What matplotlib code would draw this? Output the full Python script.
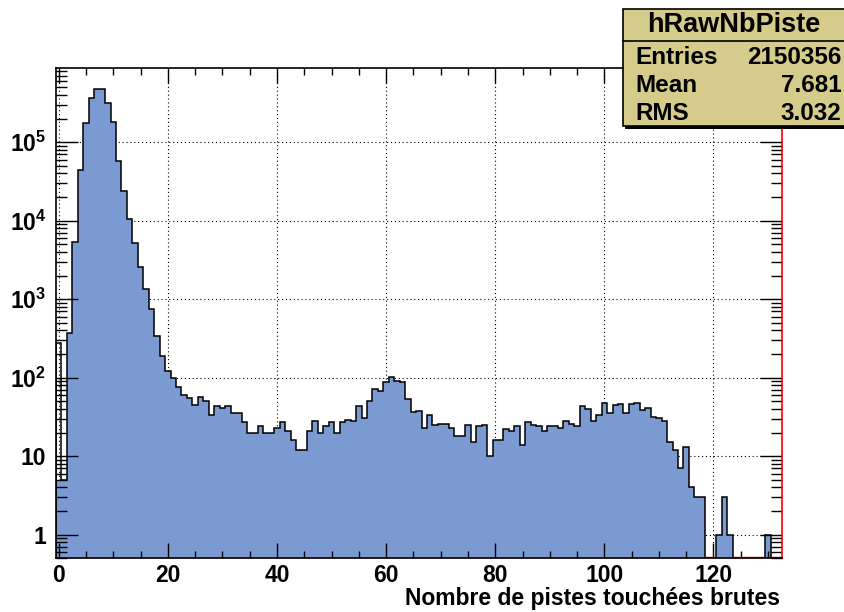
import numpy as np
import matplotlib
matplotlib.use('Agg')
import matplotlib.pyplot as plt
from matplotlib.patches import Rectangle
from matplotlib.lines import Line2D
from matplotlib.ticker import FixedLocator, MultipleLocator, LogLocator, NullFormatter

plt.rcParams['font.family'] = 'Liberation Sans'
plt.rcParams['font.weight'] = 'bold'
plt.rcParams['mathtext.fontset'] = 'custom'
plt.rcParams['mathtext.rm'] = 'Liberation Sans:bold'
plt.rcParams['mathtext.it'] = 'Liberation Sans:bold'
plt.rcParams['mathtext.bf'] = 'Liberation Sans:bold'

# hRawNbPiste : un bin par nombre de pistes (0 a 132)
contenu = [
    275, 5, 376, 5420, 44400, 178000, 370000, 473000, 473000, 320000,
    180000, 58300, 24200, 10500, 5260, 2600, 1340, 750, 341, 190,
    120, 98, 76, 60, 55, 45, 57, 50, 33, 44,
    41, 44, 35, 35, 27, 20, 20, 24, 20, 20,
    23, 27, 21, 16, 12, 12, 21, 28, 20, 24,
    27, 20, 27, 29, 28, 43, 31, 51, 71, 68,
    87, 101, 92, 87, 53, 37, 38, 23, 33, 25,
    26, 26, 23, 18, 18, 25, 15, 24, 25, 10,
    16, 16, 22, 21, 24, 14, 27, 25, 24, 21,
    24, 24, 23, 28, 26, 24, 44, 40, 28, 33,
    48, 35, 45, 46, 35, 46, 47, 39, 41, 32,
    31, 28, 15, 12, 7, 13, 4, 3, 3, 0,
    0, 1, 3, 1, 0, 0, 0, 0, 0, 0,
    1, 0, 0,
]
bords = np.arange(len(contenu) + 1) - 0.5

x_ticks = [0, 20, 40, 60, 80, 100, 120]
y_ticks = [1, 10, 1e2, 1e3, 1e4, 1e5]
y_labels = ['1', '10', r'$10^{2}$', r'$10^{3}$', r'$10^{4}$', r'$10^{5}$']

stat_titre = 'hRawNbPiste'
stat_noms = ['Entries', 'Mean', 'RMS']
stat_vals = ['2150356', '7.681', '3.032']

W, H = 845, 612
fig = plt.figure(figsize=(W / 100, H / 100), dpi=100)

def fx(px):
    return px / W

def fy(py):
    return 1 - py / H

x0, x1, y0, y1 = 56, 781.7, 67.7, 558.3
ax = fig.add_axes([fx(x0), fy(y1), fx(x1) - fx(x0), fy(y0) - fy(y1)])
ax.set_yscale('log')
ymin, ymax = 0.5, 8.9e5

bleu = '#7b9ad1'
vals = np.array(contenu, dtype=float)
trace = np.where(vals > 0, vals, 0.05)
# le remplissage du premier bin s'arrete au niveau du second
remplissage = trace.copy()
remplissage[0] = min(trace[0], trace[1])

ax.stairs(remplissage, bords, fill=True, color=bleu, baseline=0.05, zorder=1)
ax.stairs(trace, bords, color='black', lw=1.1, baseline=0.05, zorder=1.5)

# ligne rouge en bas et sur le bord droit
ax.plot([-0.5, 132.5], [0.003, 0.003], color='red', lw=1.0,
        transform=ax.get_xaxis_transform(), zorder=0.8, clip_on=False)

# grille pointillee sous l'histogramme
for xv in x_ticks:
    ax.axvline(xv, color='black', lw=0.8, ls=(0, (1, 2.5)), zorder=0.5)
for yv in y_ticks:
    ax.axhline(yv, color='black', lw=0.8, ls=(0, (1, 2.5)), zorder=0.5)

ax.set_xlim(-0.5, 132.5)
ax.set_ylim(ymin, ymax)

ax.xaxis.set_major_locator(FixedLocator(x_ticks))
ax.xaxis.set_minor_locator(MultipleLocator(5))
ax.yaxis.set_major_locator(FixedLocator(y_ticks))
ax.set_yticklabels(y_labels)
ax.yaxis.set_minor_locator(LogLocator(base=10, subs=np.arange(2, 10)))
ax.yaxis.set_minor_formatter(NullFormatter())

ax.tick_params(axis='x', which='major', direction='in', length=10.5, width=1,
               top=True, labelsize=16.5, pad=4)
ax.tick_params(axis='x', which='minor', direction='in', length=5, width=1, top=True)
ax.tick_params(axis='y', which='major', direction='in', length=15.5, width=1,
               right=True, labelsize=16.5, pad=7)
ax.tick_params(axis='y', which='minor', direction='in', length=8, width=1, right=True)

for s in ['left', 'bottom', 'top']:
    ax.spines[s].set_linewidth(1.2)
ax.spines['right'].set_color('red')
ax.spines['right'].set_linewidth(1.2)

fig.text(fx(780), fy(598), 'Nombre de pistes touch\u00e9es brutes',
         ha='right', va='center', fontsize=16.5, fontweight='bold')

# boite de statistiques
bx0, bx1, by0, by1 = 623, 846, 9, 126
fond = '#d5cc8c'
fig.patches.append(Rectangle((fx(bx0 + 2), fy(by1 + 2.5)), fx(bx1) - fx(bx0), fy(by0) - fy(by1),
                             transform=fig.transFigure, facecolor='black',
                             edgecolor='none', zorder=5))
fig.patches.append(Rectangle((fx(bx0), fy(by1)), fx(bx1) - fx(bx0), fy(by0) - fy(by1),
                             transform=fig.transFigure, facecolor=fond,
                             edgecolor='black', lw=1.2, zorder=6))
fig.lines.append(Line2D([fx(bx0), fx(bx1)], [fy(40.7), fy(40.7)],
                        transform=fig.transFigure, color='black', lw=1.2, zorder=7))
fig.text(fx((bx0 + 845) / 2), fy(25), stat_titre, ha='center', va='center',
         fontsize=19.5, fontweight='bold', zorder=8)
for i, (nom, val) in enumerate(zip(stat_noms, stat_vals)):
    yy = fy(57 + i * 28.5)
    fig.text(fx(635), yy, nom, ha='left', va='center', fontsize=17.5,
             fontweight='bold', zorder=8)
    fig.text(fx(841.5), yy, val, ha='right', va='center', fontsize=17.5,
             fontweight='bold', zorder=8)

fig.savefig('out.png', dpi=100)
